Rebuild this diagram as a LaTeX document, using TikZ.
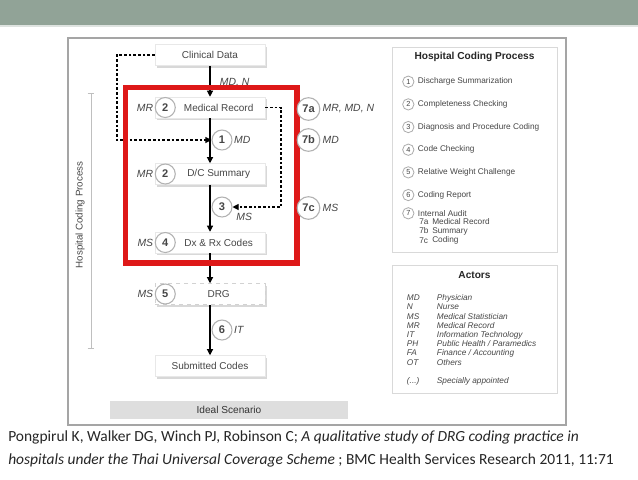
\documentclass[tikz,border=0pt]{standalone}
\usepackage{fontspec}
\setmainfont{Liberation Sans}
\newfontfamily\citefont{Carlito}
\usepackage{tikz}
\usetikzlibrary{positioning, arrows.meta, shadows}
\definecolor{bannergreen}{RGB}{145, 163, 151}
\definecolor{auditred}   {RGB}{222, 24,  24}
\definecolor{framegray}  {RGB}{165, 165, 165}
\definecolor{textgray}   {RGB}{70,  70,  70}
\definecolor{idealgray}  {RGB}{222, 222, 222}
\tikzset{
  stepbox/.style={
    rectangle, draw=gray!18, fill=white,
    minimum width=82.5pt, minimum height=15.75pt,
    font=\fontsize{7.5}{9}\selectfont, text=textgray,
    drop shadow={shadow xshift=1.8pt, shadow yshift=-1.8pt, opacity=0.3}
  },
  circbox/.style={
    stepbox, execute at begin node={\hspace*{13pt}}
  },
  stepnum/.style={
    circle, draw=gray!60, line width=0.8pt, fill=white,
    minimum size=15pt, inner sep=0.5pt,
    font=\fontsize{8.3}{9}\selectfont\bfseries, text=textgray
  },
  auditnum/.style={
    stepnum, minimum size=17pt
  },
  actorlabel/.style={
    font=\fontsize{7.8}{9}\selectfont\itshape, text=textgray, inner sep=1pt
  },
  flowarrow/.style={
    -{Triangle[length=4.5pt, width=4.5pt]}, line width=0.8pt, black
  },
  auditarrow/.style={
    flowarrow, dash pattern=on 2pt off 1.5pt
  },
  legendbox/.style={
    draw=gray!30, fill=white, line width=0.7pt
  },
  legendtitle/.style={
    font=\fontsize{7.6}{9}\selectfont\bfseries, text=black!85
  },
  legendnum/.style={
    circle, draw=gray!65, line width=0.6pt, fill=white,
    minimum size=8.5pt, inner sep=0pt,
    font=\fontsize{5.5}{6}\selectfont, text=textgray
  },
  legenditem/.style={
    font=\fontsize{6.2}{7}\selectfont, text=textgray,
    anchor=west, inner sep=0pt
  },
  citetext/.style={
    font=\citefont\fontsize{11.6}{18}\selectfont, text=black!85,
    anchor=base west, inner sep=0pt
  },
}
\begin{document}
\begin{tikzpicture}[x=0.75pt, y=-0.75pt]
  \useasboundingbox (0,0) rectangle (638,479);
  \fill[white] (0,0) rectangle (638,479);

  % Slide banner and figure frame
  \fill[bannergreen] (0,0) rectangle (638,25);
  \fill[bannergreen!30] (0,25) rectangle (638,27);
  \draw[framegray, line width=1.5pt] (67.5,38) rectangle (565.5,425);

  % Process axis
  \coordinate (axtop) at (91,93);
  \coordinate (axbot) at (91,348);
  \draw[gray!50, line width=0.5pt] (axtop) -- (axbot);
  \draw[gray!50, line width=0.5pt] ([xshift=-2.5pt]axtop) -- ([xshift=2.5pt]axtop);
  \draw[gray!50, line width=0.5pt] ([xshift=-2.5pt]axbot) -- ([xshift=2.5pt]axbot);
  \node[rotate=90, font=\fontsize{7.3}{9}\selectfont, text=textgray] (axislab) at (80,215)
        {Hospital Coding Process};

  % Coding steps
  \node[stepbox]             (clinical)  at (210,55)    {Clinical Data};
  \node[circbox]             (medrec)    at (210,107.5) {Medical Record};
  \node[circbox]             (dcsum)     at (210,174)   {D/C Summary};
  \node[circbox]             (dxrx)      at (210,242.5) {Dx \& Rx Codes};
  \node[circbox, draw=gray!35, dashed] (drg) at (210,294) {DRG};
  \node[stepbox]             (submitted) at (210,366)   {Submitted Codes};

  % Completeness / coding checks on the boxes
  \node[stepnum, anchor=west] (n2a) at (medrec.west) {2};
  \node[stepnum, anchor=west] (n2b) at (dcsum.west)  {2};
  \node[stepnum, anchor=west] (n4)  at (dxrx.west)   {4};
  \node[stepnum, anchor=west] (n5)  at (drg.west)    {5};
  \node[actorlabel, left=0pt of n2a] (mr1) {MR};
  \node[actorlabel, left=0pt of n2b] (mr2) {MR};
  \node[actorlabel, left=0pt of n4]  (ms4) {MS};
  \node[actorlabel, left=0pt of n5]  (ms5) {MS};

  % Steps on the arrows
  \node[stepnum] (s1) at (222,140) {1};
  \node[stepnum] (s3) at (222,207) {3};
  \node[stepnum] (s6) at (222,330) {6};
  \node[actorlabel, right=0pt of s1] (md1) {MD};
  \node[actorlabel, below right=-2pt and 4pt of s3] (ms3) {MS};
  \node[actorlabel, right=0pt of s6] (it6) {IT};

  % Main flow
  \draw[flowarrow] (clinical) -- node[actorlabel, right=6pt, pos=0.55]{MD, N} (medrec);
  \draw[flowarrow] (medrec) -- (dcsum);
  \draw[flowarrow] (dcsum) -- (dxrx);
  \draw[flowarrow] (dxrx) -- (drg);
  \draw[flowarrow] (drg) -- (submitted);

  % Dashed feedback paths
  \coordinate (c1corner) at (117,140);
  \coordinate (a7corner) at (281,207);
  \draw[auditarrow] (clinical.west) -| (c1corner) -- (s1.west);
  \draw[auditarrow] (medrec.east) -| (a7corner) -- (s3.east);

  % Internal audit highlight
  \draw[auditred, line width=3.8pt] (125.5,87.5) rectangle (297,263);
  \node[auditnum] (a7a) at (308.5,109) {7a};
  \node[auditnum] (a7b) at (308.5,140) {7b};
  \node[auditnum] (a7c) at (308.5,208) {7c};
  \node[actorlabel, right=0.5pt of a7a] (a7al) {MR, MD, N};
  \node[actorlabel, right=0.5pt of a7b] (a7bl) {MD};
  \node[actorlabel, right=0.5pt of a7c] (a7cl) {MS};

  % Scenario bar
  \node[fill=idealgray, minimum width=178.5pt, minimum height=13pt,
        font=\fontsize{7.6}{9}\selectfont, text=black!80] (ideal) at (229,410) {Ideal Scenario};

  % Legend: coding process
  \draw[legendbox] (392,47) rectangle (557,252);
  \node[legendtitle] (hcptitle) at (474.5,57) {Hospital Coding Process};
  \node[legendnum] (h1) at (408.3,81.7) {1};
  \node[legendnum, below=7.9pt of h1] (h2) {2};
  \node[legendnum, below=7.9pt of h2] (h3) {3};
  \node[legendnum, below=7.9pt of h3] (h4) {4};
  \node[legendnum, below=7.9pt of h4] (h5) {5};
  \node[legendnum, below=7.9pt of h5] (h6) {6};
  \node[legendnum, below=4.6pt of h6] (h7) {7};
  \node[legenditem, right=2.5pt of h1] (h1t) {Discharge Summarization};
  \node[legenditem, right=2.5pt of h2] (h2t) {Completeness Checking};
  \node[legenditem, right=2.5pt of h3] (h3t) {Diagnosis and Procedure Coding};
  \node[legenditem, right=2.5pt of h4] (h4t) {Code Checking};
  \node[legenditem, right=2.5pt of h5] (h5t) {Relative Weight Challenge};
  \node[legenditem, right=2.5pt of h6] (h6t) {Coding Report};
  \node[legenditem, right=2.5pt of h7] (h7t) {Internal Audit};
  \node[legenditem] (h7a)  at (419,221.5) {7a};
  \node[legenditem] (h7b)  at (419,231)   {7b};
  \node[legenditem] (h7c)  at (419,240.5) {7c};
  \node[legenditem] (h7at) at (432,221.5) {Medical Record};
  \node[legenditem] (h7bt) at (432,231)   {Summary};
  \node[legenditem] (h7ct) at (432,240.5) {Coding};

  % Legend: actors
  \draw[legendbox] (392,265) rectangle (557,393.5);
  \node[legendtitle] (actitle) at (474.5,275) {Actors};
  \node[legenditem, anchor=north west, font=\fontsize{6.2}{6.9}\selectfont\itshape]
        (actorlist) at (406.7,294)
        {\begin{tabular}{@{}p{22.5pt}@{}l@{}}
          MD  & Physician\\
          N   & Nurse\\
          MS  & Medical Statistician\\
          MR  & Medical Record\\
          IT  & Information Technology\\
          PH  & Public Health / Paramedics\\
          FA  & Finance / Accounting\\
          OT  & Others\\
              & \\
          (...) & Specially appointed
        \end{tabular}};

  % Citation
  \node[citetext] (cite1) at (8,441)
        {Pongpirul K, Walker DG, Winch PJ, Robinson C; \textit{A qualitative study of DRG coding practice in}};
  \node[citetext] (cite2) at (8,464)
        {\textit{hospitals under the Thai Universal Coverage Scheme} ; BMC Health Services Research 2011, 11:71};
\end{tikzpicture}
\end{document}
